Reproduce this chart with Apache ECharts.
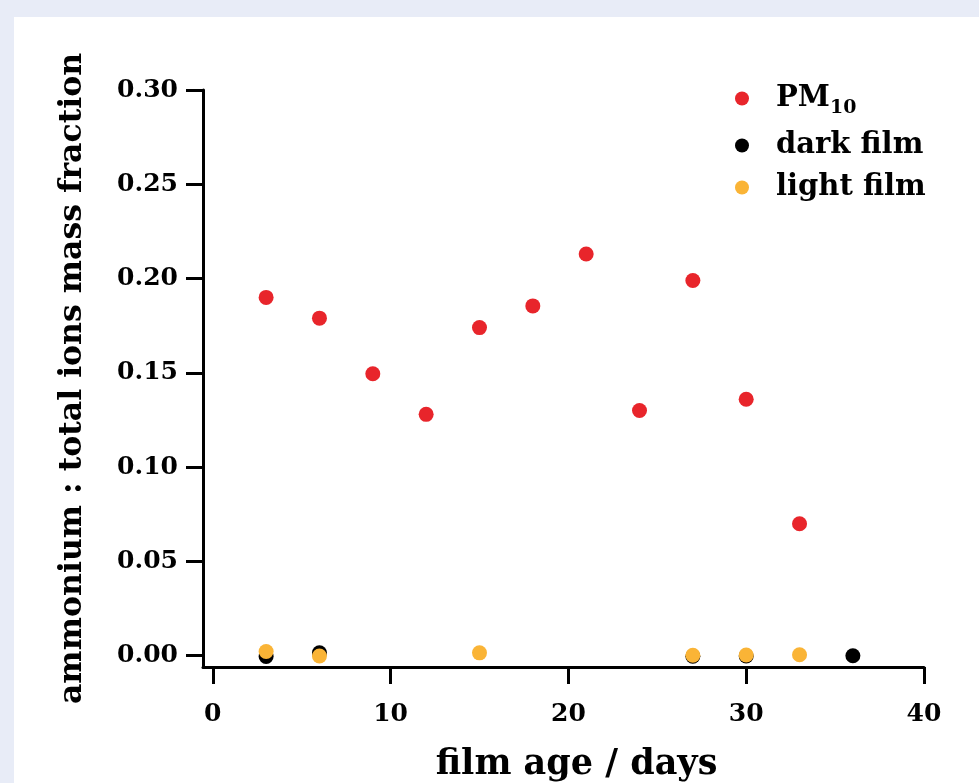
<!DOCTYPE html>
<html>

<head>
  <meta http-equiv="Content-Type" content="text/html; charset=utf-8" />
  <title>ammonium : total ions mass fraction</title>
  <script src="https://cdn.jsdelivr.net/npm/echarts@6/dist/echarts.min.js"></script>
  <style>
    html,
    body {
      margin: 0;
      padding: 0;
      width: 979px;
      height: 783px;
      overflow: hidden;
      background: #e8ecf7;
    }

    #chart {
      position: absolute;
      left: 14px;
      top: 17px;
      width: 965px;
      height: 766px;
      background: #ffffff;
    }
  </style>
</head>

<body>
  <div id="chart"></div>

  <script type="text/javascript">
    "use strict"

    // 横轴刻度 / 纵轴刻度
    const xTicks = [0, 10, 20, 30, 40]
    const yTicks = [0, 0.05, 0.1, 0.15, 0.2, 0.25, 0.3]

    // PM10
    const pmAge = [3, 6, 9, 12, 15, 18, 21, 24, 27, 30, 33]
    const pmValue = [0.19, 0.179, 0.1495, 0.128, 0.174, 0.1855, 0.213, 0.13, 0.199, 0.136, 0.07]

    // dark film
    const darkAge = [3, 6, 27, 30, 36]
    const darkValue = [-0.0004, 0.0015, -0.0003, -0.0002, 0.0]

    // light film
    const lightAge = [3, 6, 15, 27, 30, 33]
    const lightValue = [0.0022, -0.0002, 0.0015, 0.0002, 0.0004, 0.0005]

    const font = "DejaVu Serif"

    function pairs(xs, ys) {
      return xs.map((x, i) => [x, ys[i]])
    }

    const chart = echarts.init(document.getElementById("chart"))

    const axisCommon = {
      axisLine: { show: true, onZero: false, lineStyle: { color: "#000", width: 3 } },
      axisTick: { show: true, length: 17, lineStyle: { color: "#000", width: 3 } },
      splitLine: { show: false }
    }

    chart.setOption({
      animation: false,
      grid: { left: 189, right: 55, top: 73, bottom: 116, containLabel: false, outerBoundsMode: "none" },
      legend: {
        orient: "vertical",
        left: 716,
        top: 62,
        itemWidth: 14,
        itemHeight: 14,
        itemGap: 13,
        icon: "circle",
        textStyle: {
          fontFamily: font,
          fontWeight: "bold",
          fontSize: 29,
          color: "#000",
          padding: [0, 0, 0, 22],
          rich: {
            sub: { fontFamily: font, fontWeight: "bold", fontSize: 19, color: "#000", verticalAlign: "bottom", padding: [20, 0, 0, 0] }
          }
        },
        formatter: function (name) {
          return name === "PM10" ? "PM{sub|10}" : name
        },
        data: ["PM10", "dark film", "light film"]
      },
      xAxis: Object.assign({}, axisCommon, {
        type: "value",
        min: -0.55,
        max: 40,
        axisTick: Object.assign({}, axisCommon.axisTick, { customValues: xTicks }),
        axisLabel: {
          customValues: xTicks,
          margin: 35,
          fontFamily: font,
          fontWeight: "bold",
          fontSize: 25,
          color: "#000"
        },
        name: "film age / days",
        nameLocation: "middle",
        nameGap: 80,
        nameTextStyle: { fontFamily: font, fontWeight: "bold", fontSize: 35, color: "#000", padding: [0, 0, 0, 26] }
      }),
      yAxis: Object.assign({}, axisCommon, {
        type: "value",
        min: -0.006,
        max: 0.3,
        axisTick: Object.assign({}, axisCommon.axisTick, { customValues: yTicks }),
        axisLabel: {
          customValues: yTicks,
          margin: 25,
          fontFamily: font,
          fontWeight: "bold",
          fontSize: 25,
          color: "#000",
          formatter: function (v) {
            return v.toFixed(2)
          }
        },
        name: "ammonium : total ions mass fraction",
        nameLocation: "middle",
        nameRotate: 90,
        nameGap: 114,
        nameTextStyle: { fontFamily: font, fontWeight: "bold", fontSize: 31.5, color: "#000" }
      }),
      series: [
        {
          name: "PM10",
          type: "scatter",
          symbolSize: 15,
          itemStyle: { color: "#e8252b", opacity: 1 },
          data: pairs(pmAge, pmValue)
        },
        {
          name: "dark film",
          type: "scatter",
          symbolSize: 15,
          itemStyle: { color: "#000000", opacity: 1 },
          data: pairs(darkAge, darkValue)
        },
        {
          name: "light film",
          type: "scatter",
          symbolSize: 15,
          itemStyle: { color: "#fab436", opacity: 1 },
          data: pairs(lightAge, lightValue)
        }
      ]
    })
  </script>
</body>

</html>
